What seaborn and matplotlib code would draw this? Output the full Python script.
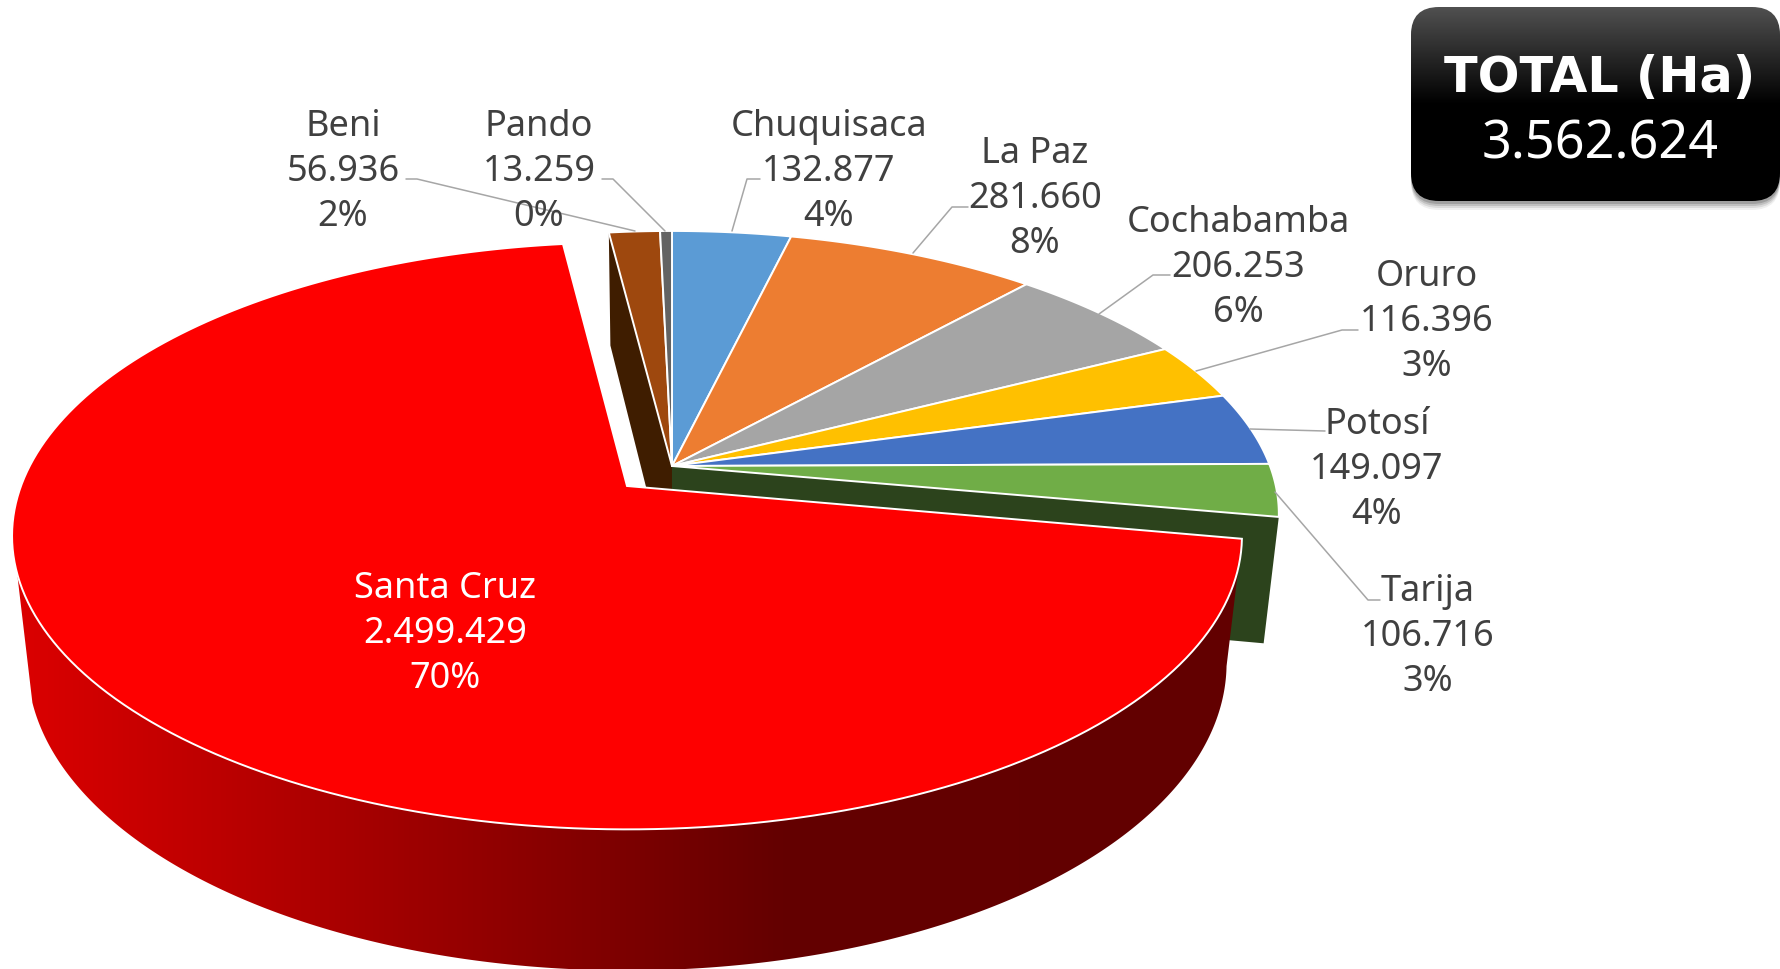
import numpy as np
import seaborn as sns
import matplotlib.pyplot as plt
from matplotlib.colors import LinearSegmentedColormap
from matplotlib.patches import FancyBboxPatch, Polygon

# Data, clockwise from 12 o'clock
departments = ['Chuquisaca', 'La Paz', 'Cochabamba', 'Oruro', 'Potosí', 'Tarija', 'Santa Cruz', 'Beni', 'Pando']
hectares = [132877, 281660, 206253, 116396, 149097, 106716, 2499429, 56936, 13259]
total_ha = 3562624

sns.set_theme(style='white')
plt.rcParams['font.family'] = ['Noto Sans', 'DejaVu Sans']
slice_colors = sns.color_palette(['#5B9BD5', '#ED7D31', '#A5A5A5', '#FFC000', '#4472C4',
                                  '#70AD47', '#FE0000', '#9E480E', '#636363'])

# Layout in reference pixels
FIG_W, FIG_H = 1781, 970
PERSP = 0.17
MAIN = dict(cx=672, cy=467, b=598, a=275)
EXPLODED = dict(cx=627, cy=487, b=606, a=285)
TEXT_COLOR = '#404040'
LEADER_COLOR = '#A6A6A6'

label_xy = [(829, 172), (1035, 199), (1238, 268), (1427, 322), (1377, 470),
            (1428, 637), (445, 634), (343, 172), (539, 172)]
leaders = [
    [(760, 180), (747, 180), (732, 232)],
    [(968, 208), (952, 208), (913, 254)],
    [(1170, 276), (1153, 276), (1099, 315)],
    [(1358, 331), (1342, 331), (1196, 372)],
    [(1325, 432), (1250, 430)],
    [(1380, 601), (1368, 601), (1275, 493)],
    None,
    [(406, 180), (417, 180), (635, 232)],
    [(602, 180), (613, 180), (665, 232)],
]


def project(theta, cx, cy, b, a):
    # circle on a tilted plane, theta clockwise from the back of the pie
    d = 1 + PERSP * np.cos(theta)
    return cx + b * np.sin(theta) / d, cy - a * np.cos(theta) / d


def drop(x, y, cx):
    # same points on the underside of the pie
    return cx + 0.975 * (x - cx), y + 113 + (y - 233) * 0.047


def top_face(start, end, geo):
    t = np.linspace(start, end, 200)
    x, y = project(t, **geo)
    return np.column_stack([np.r_[geo['cx'], x], np.r_[geo['cy'], y]])


def cut_wall(theta, geo):
    rx, ry = project(theta, **geo)
    bx, by = drop(rx, ry, geo['cx'])
    ax_, ay_ = drop(geo['cx'], geo['cy'], geo['cx'])
    return [(geo['cx'], geo['cy']), (rx, ry), (bx, by), (ax_, ay_)]


fig = plt.figure(figsize=(FIG_W / 100, FIG_H / 100), dpi=100)
ax = fig.add_axes([0, 0, 1, 1])
ax.set_xlim(0, FIG_W)
ax.set_ylim(FIG_H, 0)
ax.axis('off')

edges = np.r_[0, np.cumsum(hectares)] / np.sum(hectares) * 2 * np.pi
sc = departments.index('Santa Cruz')

# Dark faces left open by the pulled out slice
ax.add_patch(Polygon(cut_wall(edges[sc], MAIN), fc='#2C431C', ec='none', zorder=1))
ax.add_patch(Polygon(cut_wall(edges[sc + 1], MAIN), fc='#3F1D00', ec='none', zorder=1))

# Slices that stay in place
for i, name in enumerate(departments):
    if i == sc:
        continue
    ax.add_patch(Polygon(top_face(edges[i], edges[i + 1], MAIN), fc=slice_colors[i],
                         ec='white', lw=1.4, joinstyle='round', zorder=2))

# Santa Cruz outer wall with the horizontal shading
t_wall = np.linspace(edges[sc], np.radians(253), 300)
wx, wy = project(t_wall, **EXPLODED)
bx, by = drop(wx, wy, EXPLODED['cx'])
wall = Polygon(np.column_stack([np.r_[wx, bx[::-1]], np.r_[wy, by[::-1]]]),
               fc='none', ec='none', transform=ax.transData)
ax.add_patch(wall)
wall_cmap = LinearSegmentedColormap.from_list('wall', [(0, '#DE0000'), (0.62, '#640000'), (1, '#620000')])
img = ax.imshow(np.linspace(0, 1, 512)[None, :], cmap=wall_cmap, aspect='auto',
                extent=(0, 1260, FIG_H, 500), zorder=3)
img.set_clip_path(wall)

# Santa Cruz top
ax.add_patch(Polygon(top_face(edges[sc], edges[sc + 1], EXPLODED), fc=slice_colors[sc],
                     ec='white', lw=1.4, zorder=4))

# Leader lines
for pts in leaders:
    if pts is not None:
        xs, ys = zip(*pts)
        ax.plot(xs, ys, color=LEADER_COLOR, lw=1.1, zorder=5)

# Labels
for i, name in enumerate(departments):
    value = f'{hectares[i]:,}'.replace(',', '.')
    pct = round(hectares[i] / np.sum(hectares) * 100)
    ax.text(*label_xy[i], f'{name}\n{value}\n{pct}%', ha='center', va='center', fontsize=26,
            linespacing=1.33, color='white' if i == sc else TEXT_COLOR, zorder=6)

# TOTAL box: soft shadow, then dark gradient box
box_x, box_y, box_w, box_h = 1411, 8, 369, 194
for grow, alpha in zip([7, 5, 3, 1], [0.06, 0.09, 0.12, 0.16]):
    ax.add_patch(FancyBboxPatch((box_x + 28, box_y + 28 + 2), box_w - 56, box_h - 56 + grow,
                                boxstyle='round,pad=28,rounding_size=28', fc='black', ec='none',
                                alpha=alpha, zorder=7))
box = FancyBboxPatch((box_x + 28, box_y + 28), box_w - 56, box_h - 56,
                     boxstyle='round,pad=28,rounding_size=28', fc='none', ec='none')
ax.add_patch(box)
box_cmap = LinearSegmentedColormap.from_list('box', [(0, '#505050'), (0.5, '#000000'), (1, '#000000')])
box_img = ax.imshow(np.linspace(0, 1, 256)[:, None], cmap=box_cmap, aspect='auto',
                    extent=(box_x, box_x + box_w, box_y + box_h, box_y), zorder=8)
box_img.set_clip_path(box)
ax.set_xlim(0, FIG_W)
ax.set_ylim(FIG_H, 0)

ax.text(1600, 78, 'TOTAL (Ha)', ha='center', va='center', fontsize=35.5, family='DejaVu Sans',
        fontweight='bold', color='white', zorder=9)
ax.text(1600, 145, f'{total_ha:,}'.replace(',', '.'), ha='center', va='center', fontsize=37.5, color='white', zorder=9)

fig.savefig('out.png', dpi=100)
